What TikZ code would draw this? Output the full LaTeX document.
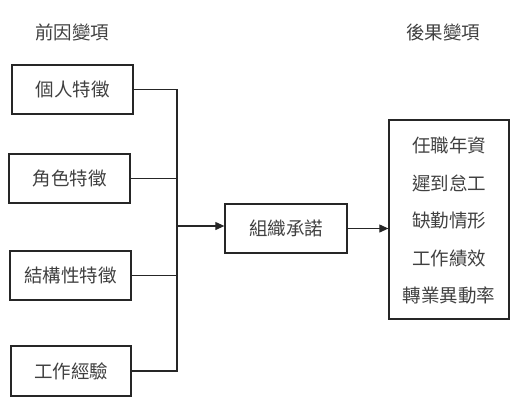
\documentclass[tikz,border=0pt]{standalone}
\usepackage{fontspec}
\newfontfamily\cjk{Noto Sans CJK TC}[Scale=1]
\usetikzlibrary{arrows.meta}
\begin{document}
\begin{tikzpicture}[x=1pt,y=-1pt,
  every node/.style={font=\cjk\fontsize{18.5}{20}\selectfont, text=black!75, inner sep=0pt},
  box/.style={draw=black!85, line width=1.3pt},
  conn/.style={draw=black!85, line width=1.1pt},
  arr/.style={conn, -{Triangle[length=9pt,width=8pt]}}]
\useasboundingbox (0,0) rectangle (513,413);
\node (t1) at (72,32) {前因變項};
\node (t2) at (443,32) {後果變項};
\node[box, minimum width=121pt, minimum height=49pt] (b1) at (72.5,89.5) {個人特徵};
\node[box, minimum width=121pt, minimum height=49pt] (b2) at (69.5,178.5) {角色特徵};
\node[box, minimum width=121pt, minimum height=49pt] (b3) at (70.5,275.5) {結構性特徵};
\node[box, minimum width=120pt, minimum height=50pt] (b4) at (71,371) {工作經驗};
\node[box, minimum width=122pt, minimum height=49pt] (c) at (286,228.5) {組織承諾};
\node[box, minimum width=120pt, minimum height=199pt] (r) at (449,219.5) {};
\node (r1) at (449,145) {任職年資};
\node (r2) at (449,183) {遲到怠工};
\node (r3) at (449,221) {缺勤情形};
\node (r4) at (449,258) {工作績效};
\node (r5) at (449,295) {轉業異動率};
\coordinate (j) at (177,226);
\draw[conn] (b1.east) -| (j);
\draw[conn] (b4.east) -| (j);
\draw[conn] (b2.east) -- (b2.east -| j);
\draw[conn] (b3.east) -- (b3.east -| j);
\draw[arr] (j) -- (c.west |- j);
\draw[arr] (c.east) -- (r.west |- c.east);
\end{tikzpicture}
\end{document}
